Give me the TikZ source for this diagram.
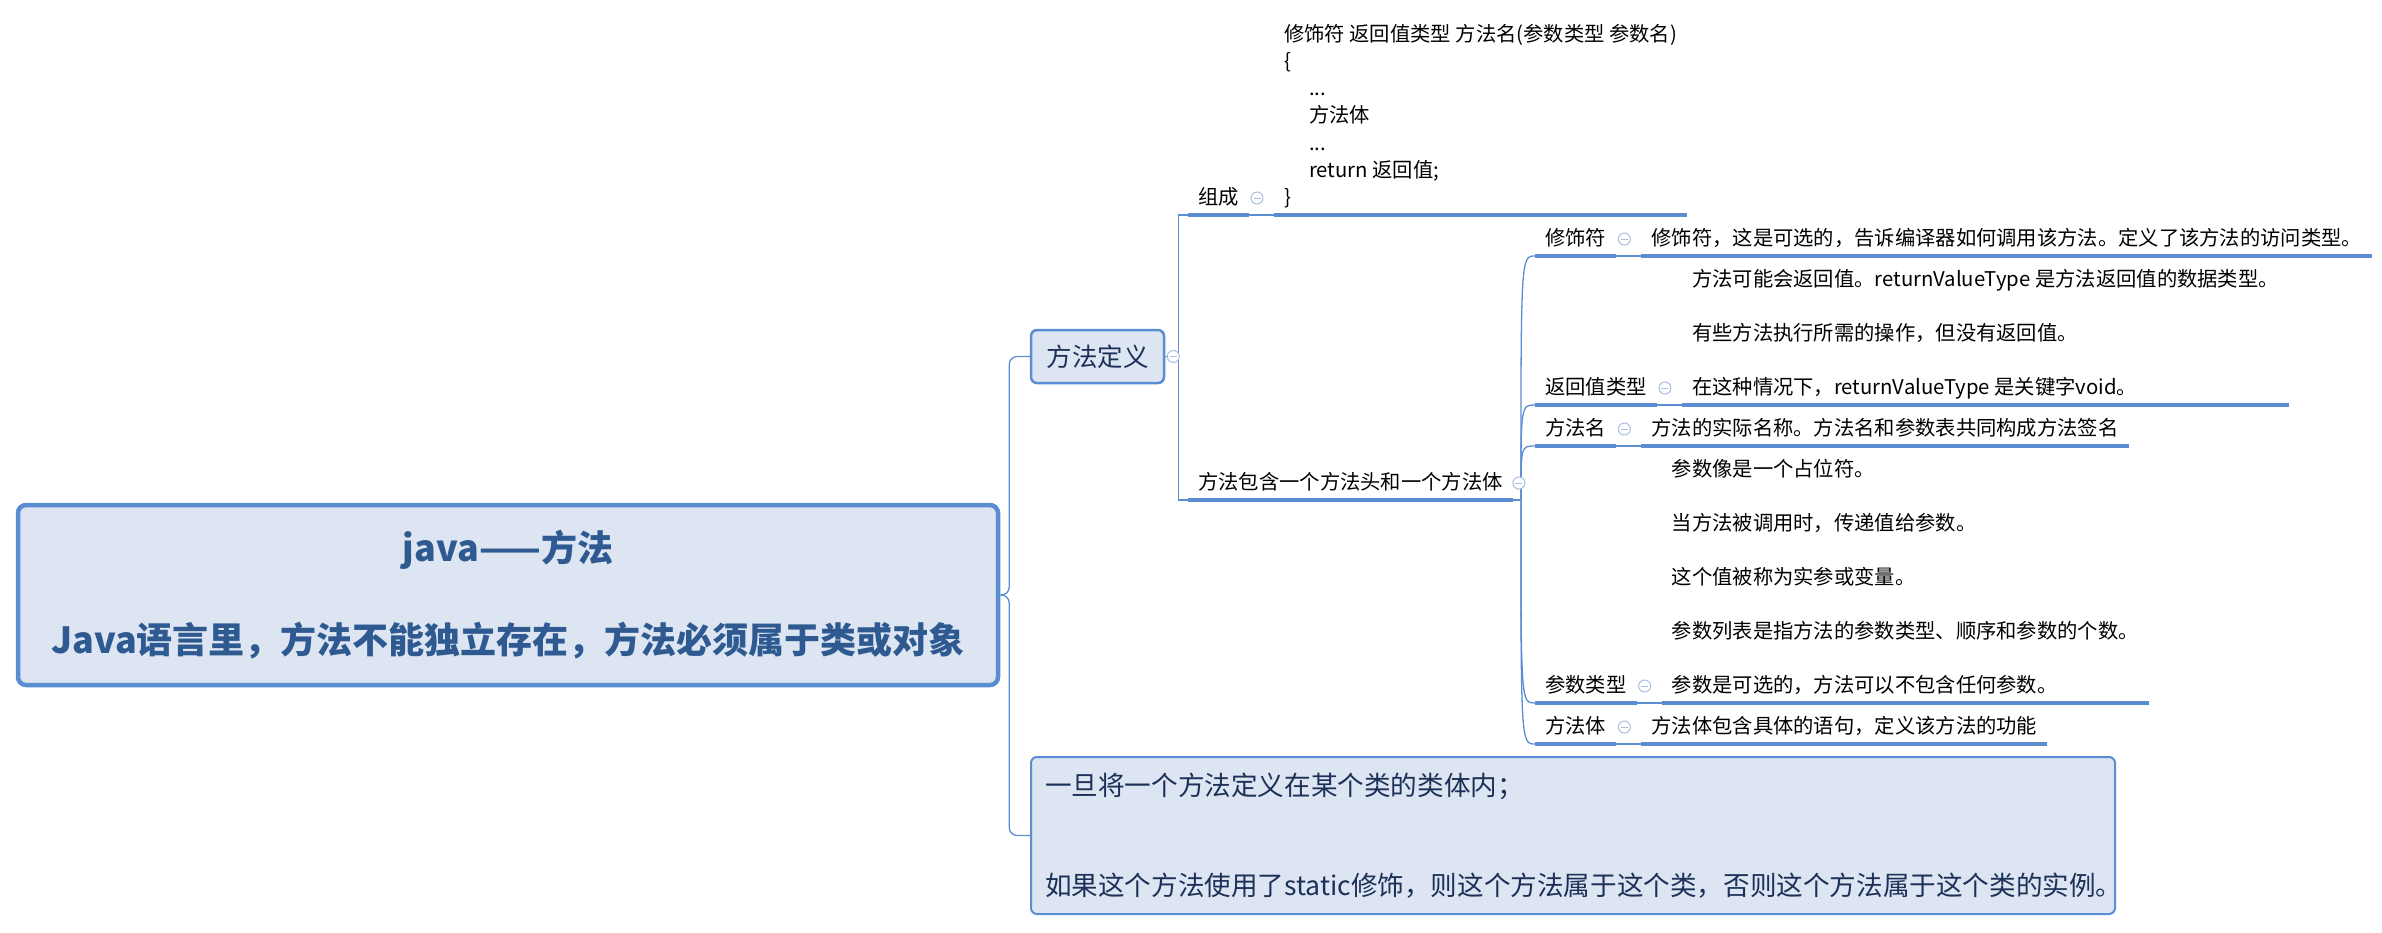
\documentclass[tikz,border=0pt]{standalone}
\usepackage{fontspec}
\setmainfont{Noto Sans CJK SC}
\usetikzlibrary{calc}
\definecolor{lineblue}{HTML}{5B8DD3}
\definecolor{boxfill}{HTML}{DCE5F1}
\definecolor{roottext}{HTML}{2E5A91}
\definecolor{boxtext}{HTML}{1C3058}
\definecolor{foldc}{HTML}{A9BEE3}
\newcommand\ulstrut{\rule[-10pt]{0pt}{1pt}}
\begin{document}
\begin{tikzpicture}[x=1pt,y=-1pt,
  rootbox/.style={draw=lineblue, line width=4.5pt, fill=boxfill, rounded corners=8pt,
    text=roottext, font=\fontsize{36}{42}\selectfont\bfseries, align=center,
    minimum width=980pt, minimum height=180pt, inner sep=0pt},
  lonebox/.style={draw=lineblue, line width=2.5pt, fill=boxfill, rounded corners=6pt,
    text=boxtext, font=\fontsize{25.5}{30}\selectfont,
    minimum width=133pt, minimum height=53pt, inner sep=0pt},
  notebox/.style={draw=lineblue, line width=2pt, fill=boxfill, rounded corners=6pt,
    text=boxtext, font=\fontsize{26.6}{32}\selectfont, align=left,
    text width=1056pt, inner xsep=14pt, inner ysep=0pt, minimum height=157pt},
  topic/.style={anchor=south west, inner xsep=10pt, inner ysep=0pt,
    font=\fontsize{20.3}{24.4}\selectfont, text=black},
  multi/.style={align=left, font=\fontsize{20.3}{54}\selectfont},
  ul/.style={draw=lineblue, line width=3.5pt},
  conn/.style={draw=lineblue, line width=1.3pt},
  fold/.style={circle, draw=foldc, fill=white, line width=1pt, minimum size=12pt, inner sep=0pt,
    path picture={\draw[foldc, line width=1pt]
      ($(path picture bounding box.center)+(-3.5,0)$) -- ($(path picture bounding box.center)+(3.5,0)$);}}
]
\useasboundingbox (0,0) rectangle (2382,932);

% level 0 and level 1 nodes
\node[rootbox] (root) at (508,595) {java——方法\\[50pt]Java语言里，方法不能独立存在，方法必须属于类或对象};
\node[lonebox] (fdy) at (1097.5,356.5) {方法定义};
\node[notebox] (note) at (1573,835.5) {一旦将一个方法定义在某个类的类体内；\\[68pt]如果这个方法使用了static修饰，则这个方法属于这个类，否则这个方法属于这个类的实例。};

\draw[conn, rounded corners=8pt] (root.east) -- ++(9,0) |- (fdy.west);
\draw[conn, rounded corners=8pt] (root.east) -- ++(9,0) |- (note.west);

% level 2
\coordinate (b1) at ($(fdy.east)+(13,0)$);
\node[topic] (zc) at (1188,215) {组成\ulstrut};
\node[topic] (ff) at (1188,500) {方法包含一个方法头和一个方法体\ulstrut};
\node[topic, align=left, font=\fontsize{20.3}{27.3}\selectfont] (code) at ($(zc.south east)+(25,0)$)
  {修饰符 返回值类型 方法名(参数类型 参数名)\\\{\\\hspace*{25pt}...\\\hspace*{25pt}方法体\\\hspace*{25pt}...\\\hspace*{25pt}return 返回值;\\\}\ulstrut};

\draw[conn] (fdy.east) -- (b1);
\draw[conn] (b1) |- (zc.south west);
\draw[conn] (b1) |- (ff.south west);
\draw[ul] (zc.south west) -- (zc.south east);
\draw[ul] (ff.south west) -- (ff.south east);
\draw[conn] (zc.south east) -- (code.south west);
\draw[ul] (code.south west) -- (code.south east);

% level 3
\coordinate (b2) at ($(ff.south east)+(8,0)$);
\draw[conn] (ff.south east) -- (b2);
\node[topic] (xs) at (1535,256) {修饰符\ulstrut};
\node[topic] (fh) at (1535,405) {返回值类型\ulstrut};
\node[topic] (fm) at (1535,446) {方法名\ulstrut};
\node[topic] (cs) at (1535,703) {参数类型\ulstrut};
\node[topic] (ft) at (1535,744) {方法体\ulstrut};

\node[topic] (xsd) at ($(xs.south east)+(25,0)$) {修饰符，这是可选的，告诉编译器如何调用该方法。定义了该方法的访问类型。\ulstrut};
\node[topic, multi] (fhd) at ($(fh.south east)+(25,0)$) {方法可能会返回值。returnValueType 是方法返回值的数据类型。\\有些方法执行所需的操作，但没有返回值。\\在这种情况下，returnValueType 是关键字void。\ulstrut};
\node[topic] (fmd) at ($(fm.south east)+(25,0)$) {方法的实际名称。方法名和参数表共同构成方法签名\ulstrut};
\node[topic, multi] (csd) at ($(cs.south east)+(25,0)$) {参数像是一个占位符。\\当方法被调用时，传递值给参数。\\这个值被称为实参或变量。\\参数列表是指方法的参数类型、顺序和参数的个数。\\参数是可选的，方法可以不包含任何参数。\ulstrut};
\node[topic] (ftd) at ($(ft.south east)+(25,0)$) {方法体包含具体的语句，定义该方法的功能\ulstrut};

\foreach \n in {xs,fh,fm,cs,ft}{
  \draw[conn] (b2) .. controls (b2 |- \n.south west) .. (\n.south west);
  \draw[ul] (\n.south west) -- (\n.south east);
  \draw[conn] (\n.south east) -- (\n d.south west);
  \draw[ul] (\n d.south west) -- (\n d.south east);
}

% fold markers
\node[fold] (fdyfold) at ($(fdy.east)+(8,0)$) {};
\node[fold] (zcfold) at ($(zc.south east)+(8,-17)$) {};
\node[fold] (fffold) at ($(ff.south east)+(6,-17)$) {};
\foreach \n in {xs,fh,fm,cs,ft}{
  \node[fold] (\n fold) at ($(\n.south east)+(8,-17)$) {};
}
\end{tikzpicture}
\end{document}
